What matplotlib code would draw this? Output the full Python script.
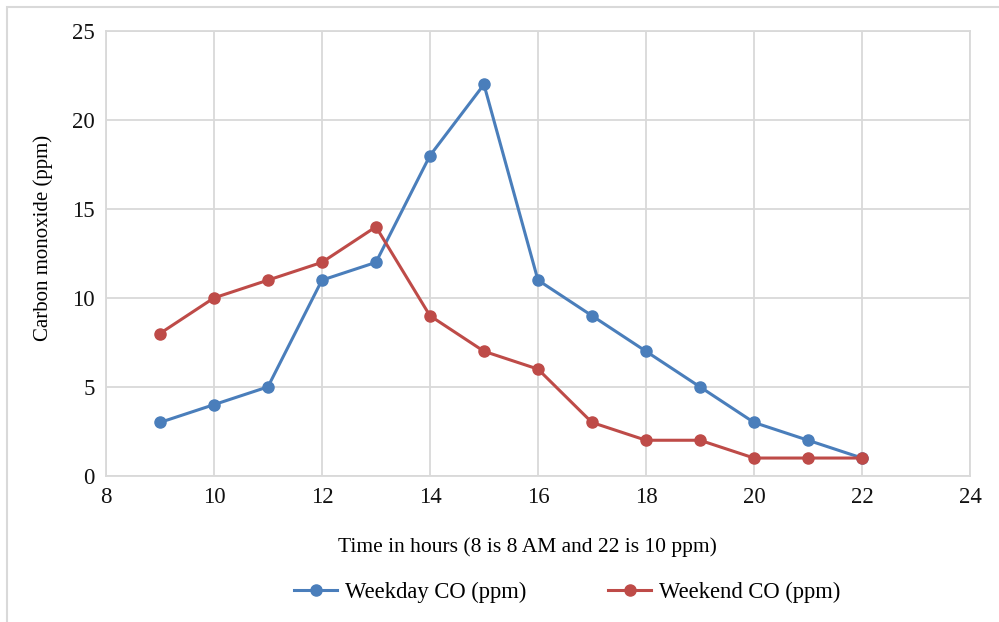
import matplotlib

matplotlib.use("Agg")

import matplotlib.pyplot as plt
from matplotlib.lines import Line2D
from matplotlib.patches import Rectangle

hours = [9, 10, 11, 12, 13, 14, 15, 16, 17, 18, 19, 20, 21, 22]
weekday_co = [3, 4, 5, 11, 12, 18, 22, 11, 9, 7, 5, 3, 2, 1]
weekend_co = [8, 10, 11, 12, 14, 9, 7, 6, 3, 2, 2, 1, 1, 1]
x_ticks = [8, 10, 12, 14, 16, 18, 20, 22, 24]
y_ticks = [0, 5, 10, 15, 20, 25]

BLUE = "#4a7ebb"
RED = "#be4b48"
GRID = "#d9d9d9"

plt.rcParams["font.family"] = ["Liberation Serif", "DejaVu Serif"]

fig = plt.figure(figsize=(9.99, 6.22), dpi=100)
ax = fig.add_axes([0.106, 0.235, 0.865, 0.715])

# outer chart frame
fig.patches.append(Rectangle((7 / 999, -0.01), 1.0, 1 - 7 / 622 + 0.01,
                             transform=fig.transFigure, fill=False,
                             edgecolor="#d9d9d9", linewidth=1.5))

ax.plot(hours, weekday_co, color=BLUE, linewidth=2.2, marker="o", markersize=8)
ax.plot(hours, weekend_co, color=RED, linewidth=2.2, marker="o", markersize=8)

ax.set_xlim(8, 24)
ax.set_ylim(0, 25)
ax.set_xticks(x_ticks)
ax.set_yticks(y_ticks)
ax.grid(color=GRID, linewidth=1.3)
ax.set_axisbelow(True)
for spine in ax.spines.values():
    spine.set_color(GRID)
    spine.set_linewidth(1.3)
ax.tick_params(length=0, labelsize=16.5, pad=8, labelcolor="#111111")

ax.set_xlabel("Time in hours (8 is 8 AM and 22 is 10 ppm)", fontsize=15.5, labelpad=21)
ax.xaxis.label.set_x(0.488)
ax.set_ylabel("Carbon monoxide (ppm)", fontsize=15, labelpad=14)
ax.yaxis.label.set_y(0.535)

handles = [
    Line2D([], [], color=BLUE, linewidth=2.2, marker="o", markersize=8),
    Line2D([], [], color=RED, linewidth=2.2, marker="o", markersize=8),
]
fig.legend(handles, ["Weekday CO (ppm)", "Weekend CO (ppm)"], loc="center",
           bbox_to_anchor=(0.568, 0.048), ncol=2, frameon=False, fontsize=16.3,
           handlelength=1.9, columnspacing=3.6, handletextpad=0.35)

fig.savefig("out.png", dpi=100)
